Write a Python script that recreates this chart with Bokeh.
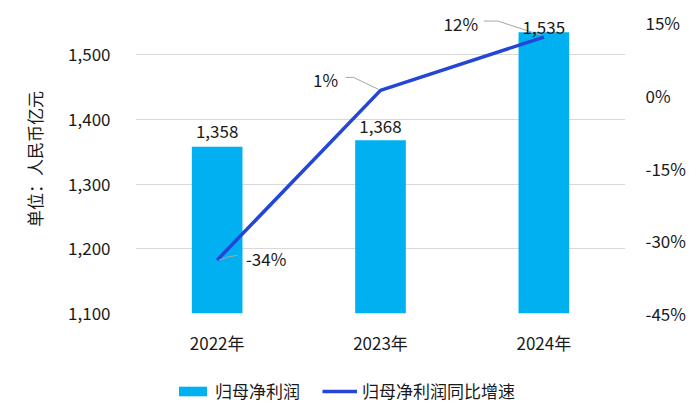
from bokeh.plotting import figure
from bokeh.layouts import column
from bokeh.models import (Range1d, LinearAxis, FixedTicker, NumeralTickFormatter,
                          Legend, LegendItem, ColumnDataSource)
from bokeh.embed import file_html
from bokeh.resources import INLINE
from bokeh.core.properties import value

# ---------------- data ----------------
years = ["2022年", "2023年", "2024年"]
profit = [1358, 1368, 1535]
growth = [-0.34, 0.01, 0.12]
profit_labels = ["1,358", "1,368", "1,535"]
growth_labels = ["-34%", "1%", "12%"]
left_ticks = [1100, 1200, 1300, 1400, 1500]
right_ticks = [-0.45, -0.30, -0.15, 0.0, 0.15]
left_range = (1100, 1550)
right_range = (-0.45, 0.15)
series_names = ["归母净利润", "归母净利润同比增速"]

# ---------------- style ----------------
FONT = "Noto Sans CJK SC"
FS = "17px"
TXT = "#1a1a1a"
BAR_C = "#00B0F0"
LINE_C = "#2346D6"
GRID_C = "#D9D9D9"

W = 700
H_MAIN, H_LEG = 360, 49
AXIS_TOP, AXIS_BOTTOM = 22, 313     # pixel rows of the axis range ends
BL, BR, BT = 135, 75, 4
BB = H_MAIN - AXIS_BOTTOM
FW = W - BL - BR
FH = AXIS_BOTTOM - BT
AH = AXIS_BOTTOM - AXIS_TOP
# extend ranges so that the frame reaches above the axis top (labels not clipped)
ly0, ly1 = left_range
ry0, ry1 = right_range
left_view = (ly0, ly0 + (ly1 - ly0) * FH / AH)
right_view = (ry0, ry0 + (ry1 - ry0) * FH / AH)

x = [i + 0.5 for i in range(len(years))]

p = figure(width=W, height=H_MAIN, output_backend="svg", toolbar_location=None,
           x_range=Range1d(0, len(years)), y_range=Range1d(*left_view),
           min_border_left=BL, min_border_right=BR, min_border_top=BT, min_border_bottom=BB)
p.outline_line_color = None
p.background_fill_color = "white"
p.border_fill_color = "white"
p.extra_y_ranges = {"pct": Range1d(*right_view)}

BAR_STYLE = dict(fill_color=BAR_C, line_color=None)
LINE_STYLE = dict(line_color=LINE_C, line_width=3.5, line_join="round")

# bars
p.vbar(x=x, top=profit, bottom=left_range[0], width=0.31, **BAR_STYLE)

# line
p.line(x=x, y=growth, y_range_name="pct", **LINE_STYLE)

# leader lines (pixel offsets from the point, converted to data units)
sx = len(years) / FW
sy = (right_view[1] - right_view[0]) / FH
leader_px = [
    [(2, 0), (10, 3), (21, 5)],
    [(-35, 13), (-27, 13), (-2, 1)],
    [(-60, 16), (-46, 16), (-3, 2)],
]
lxs = [[xi + dx * sx for dx, dy in pts] for xi, pts in zip(x, leader_px)]
lys = [[gi + dy * sy for dx, dy in pts] for gi, pts in zip(growth, leader_px)]
p.multi_line(xs=lxs, ys=lys, y_range_name="pct", line_color="#A6A6A6", line_width=1)

# bar labels
bsrc = ColumnDataSource(dict(x=x, y=profit, t=profit_labels, yo=[-15, -14, -5]))
p.text(x="x", y="y", text="t", source=bsrc, y_offset="yo",
       text_align="center", text_baseline="middle",
       text_font=value(FONT), text_font_size=FS, text_color=TXT)

# growth labels
gsrc = ColumnDataSource(dict(x=x, y=growth, t=growth_labels,
                             xo=[49, -55, -83], yo=[-2, -11, -14]))
p.text(x="x", y="y", text="t", source=gsrc, x_offset="xo", y_offset="yo",
       y_range_name="pct", text_align="center", text_baseline="middle",
       text_font=value(FONT), text_font_size=FS, text_color=TXT)

# grid
p.xgrid.visible = False
p.ygrid.ticker = FixedTicker(ticks=left_ticks)
p.ygrid.grid_line_color = GRID_C
p.ygrid.grid_line_width = 1.2


def style_axis(ax, standoff):
    ax.axis_line_color = None
    ax.major_tick_line_color = None
    ax.minor_tick_line_color = None
    ax.major_tick_out = 0
    ax.major_tick_in = 0
    ax.minor_tick_out = 0
    ax.minor_tick_in = 0
    ax.major_label_standoff = standoff
    ax.major_label_text_font = FONT
    ax.major_label_text_font_size = FS
    ax.major_label_text_color = TXT


# x axis
xa = p.xaxis[0]
xa.ticker = FixedTicker(ticks=x)
xa.major_label_overrides = {xi: y for xi, y in zip(x, years)}
style_axis(xa, 16)

# left axis
ya = p.yaxis[0]
ya.ticker = FixedTicker(ticks=left_ticks)
ya.formatter = NumeralTickFormatter(format="0,0")
style_axis(ya, 25)
ya.axis_label = "单位：人民币亿元"
ya.axis_label_text_font = FONT
ya.axis_label_text_font_size = FS
ya.axis_label_text_font_style = "normal"
ya.axis_label_text_color = TXT
ya.axis_label_standoff = 18

# right axis
ra = LinearAxis(y_range_name="pct", ticker=FixedTicker(ticks=right_ticks),
                formatter=NumeralTickFormatter(format="0%"))
style_axis(ra, 20)
p.add_layout(ra, "right")

# ---------------- legend strip ----------------
q = figure(width=W, height=H_LEG, output_backend="svg", toolbar_location=None,
           x_range=Range1d(0, len(years)), y_range=Range1d(5000, 5001),
           min_border_left=BL, min_border_right=BR,
           min_border_top=0, min_border_bottom=0)
q.axis.visible = False
q.grid.visible = False
q.outline_line_color = None
q.background_fill_color = "white"
q.border_fill_color = "white"
# same series drawn outside the visible range: only their legend glyphs show
lb = q.vbar(x=x, top=profit, bottom=left_range[0], width=0.31, **BAR_STYLE)
ll = q.line(x=x, y=growth, **LINE_STYLE)

legend = Legend(items=[LegendItem(label=series_names[0], renderers=[lb]),
                       LegendItem(label=series_names[1], renderers=[ll])],
                orientation="horizontal", location=(175 - BL, 6),
                glyph_width=35, glyph_height=12, label_standoff=5, spacing=22,
                padding=0, margin=0, border_line_color=None,
                background_fill_alpha=0,
                label_text_font=FONT, label_text_font_size=FS, label_text_color=TXT)
q.add_layout(legend, "center")

layout = column(p, q, spacing=0)
open("out.html", "w").write(file_html(layout, INLINE))
